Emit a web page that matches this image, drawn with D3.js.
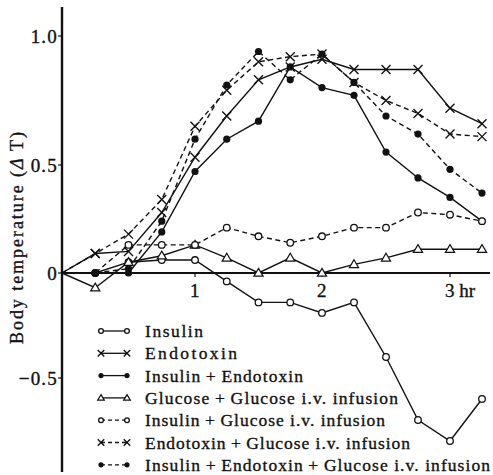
<!DOCTYPE html>
<html>
<head>
<meta charset="utf-8">
<script src="https://cdn.jsdelivr.net/npm/d3@7/dist/d3.min.js"></script>
<style>
  html, body { margin: 0; padding: 0; background: #fff; }
  svg { display: block; }
  text { font-family: "Liberation Serif", "DejaVu Serif", serif; fill: #111; stroke: #111; stroke-width: 0.35; }
</style>
</head>
<body>
<svg id="chart" width="493" height="475"></svg>
<script>
// Sampling times (hours after injection)
const hours = [0, 0.25, 0.5, 0.75, 1, 1.25, 1.5, 1.75, 2, 2.25, 2.5, 2.75, 3, 3.25];

// Mean rise of body temperature (ΔT, °C) for each treatment group
const insulin            = [0, 0, 0.05, 0.06, 0.06, -0.04, -0.14, -0.14, -0.19, -0.14, -0.40, -0.70, -0.80, -0.60];
const endotoxin          = [0, 0.09, 0.10, 0.28, 0.53, 0.69, 0.83, 0.88, 0.91, 0.87, 0.87, 0.87, 0.72, 0.66];
const insulinEndotoxin   = [0, 0, 0, 0.19, 0.47, 0.60, 0.67, 0.88, 0.80, 0.77, 0.55, 0.44, 0.35, 0.24];
const glucoseGlucose     = [0, -0.07, 0.05, 0.08, 0.13, 0.07, 0, 0.07, 0, 0.04, 0.07, 0.11, 0.11, 0.11];
const insulinGlucose     = [0, 0, 0.13, 0.13, 0.13, 0.21, 0.17, 0.14, 0.17, 0.21, 0.21, 0.28, 0.27, 0.24];
const endotoxinGlucose   = [0, 0.09, 0.18, 0.34, 0.65, 0.79, 0.90, 0.92, 0.93, 0.82, 0.75, 0.70, 0.62, 0.61];
const insEndoGlucose     = [0, 0, 0.02, 0.24, 0.60, 0.81, 0.94, 0.83, 0.93, 0.82, 0.69, 0.62, 0.48, 0.37];

const seriesNames = [
  "Insulin",
  "Endotoxin",
  "Insulin\u2009+\u2009Endotoxin",
  "Glucose\u2009+\u2009Glucose i.v. infusion",
  "Insulin\u2009+\u2009Glucose i.v. infusion",
  "Endotoxin\u2009+\u2009Glucose i.v. infusion",
  "Insulin\u2009+\u2009Endotoxin\u2009+\u2009Glucose i.v. infusion"
];
const seriesValues = [insulin, endotoxin, insulinEndotoxin, glucoseGlucose, insulinGlucose, endotoxinGlucose, insEndoGlucose];
const seriesMarkers = ["circle", "cross", "dot", "triangle", "circle", "cross", "dot"];
const seriesDashed = [false, false, false, false, true, true, true];

const yTicks = [1.0, 0.5, 0, -0.5];
const yTickLabels = ["1.0", "0.5", "0", "\u22120.5"];
const xTicks = [1, 2, 3];
const xTickLabels = ["1", "2", "3 hr"];

const svg = d3.select("#chart");

// Axis scales (polylinear, following the printed graduation)
const x = d3.scaleLinear().domain([0, 1, 2, 3.25]).range([62, 195, 322, 482]);
const y = d3.scaleLinear().domain([-0.5, 0, 0.5, 1.0]).range([378, 273, 165, 36]);

// Vertical axis
svg.append("line")
  .attr("x1", x(0)).attr("x2", x(0))
  .attr("y1", 7).attr("y2", 472)
  .attr("stroke", "#111").attr("stroke-width", 2.4);

// Horizontal zero line
svg.append("line")
  .attr("x1", x(0)).attr("x2", 490)
  .attr("y1", y(0)).attr("y2", y(0))
  .attr("stroke", "#111").attr("stroke-width", 1.8);

// Y ticks and labels
const yg = svg.append("g");
yTicks.forEach((t, i) => {
  yg.append("line")
    .attr("x1", x(0) - 4).attr("x2", x(0))
    .attr("y1", y(t)).attr("y2", y(t))
    .attr("stroke", "#111").attr("stroke-width", 1.2);
  yg.append("text")
    .attr("x", x(0) - 4).attr("y", y(t) + 6.5)
    .attr("text-anchor", "end")
    .attr("font-size", 19)
    .attr("letter-spacing", 1.2)
    .text(yTickLabels[i]);
});

// X ticks and labels
const xg = svg.append("g");
xTicks.forEach((t, i) => {
  xg.append("line")
    .attr("x1", x(t)).attr("x2", x(t))
    .attr("y1", y(0)).attr("y2", y(0) + 4)
    .attr("stroke", "#111").attr("stroke-width", 1.2);
  xg.append("text")
    .attr("x", x(t) - 5).attr("y", y(0) + 24)
    .attr("font-size", 19)
    .text(xTickLabels[i]);
});

// Y-axis title
svg.append("text")
  .attr("transform", `translate(23, 238) rotate(-90)`)
  .attr("text-anchor", "middle")
  .attr("font-size", 18)
  .attr("textLength", 212)
  .attr("lengthAdjust", "spacing")
  .call(t => {
    t.append("tspan").text("Body temperature (");
    t.append("tspan").attr("font-style", "italic").text("\u0394");
    t.append("tspan").text("\u2009T)");
  });

// Marker drawing helper
function drawMarker(g, kind, cx, cy, k = 1) {
  if (kind === "circle") {
    g.append("circle").attr("cx", cx).attr("cy", cy).attr("r", 3.3 * k)
      .attr("fill", "#fff").attr("stroke", "#111").attr("stroke-width", 1.3);
  } else if (kind === "dot") {
    g.append("circle").attr("cx", cx).attr("cy", cy).attr("r", 3.6 * k)
      .attr("fill", "#111");
  } else if (kind === "cross") {
    const s = 4.5 * k;
    g.append("path")
      .attr("d", `M${cx - s},${cy - s}L${cx + s},${cy + s}M${cx - s},${cy + s}L${cx + s},${cy - s}`)
      .attr("stroke", "#111").attr("stroke-width", 1.4).attr("fill", "none");
  } else if (kind === "triangle") {
    const s = 4.6 * k;
    g.append("path")
      .attr("d", `M${cx},${cy - s}L${cx + s},${cy + s * 0.7}L${cx - s},${cy + s * 0.7}Z`)
      .attr("fill", "#fff").attr("stroke", "#111").attr("stroke-width", 1.2);
  }
}

const line = d3.line().x(d => x(d[0])).y(d => y(d[1]));

// Series lines
const linesG = svg.append("g");
seriesValues.forEach((vals, i) => {
  const pts = hours.map((h, j) => [h, vals[j]]);
  linesG.append("path")
    .attr("d", line(pts))
    .attr("fill", "none")
    .attr("stroke", "#111")
    .attr("stroke-width", 1.4)
    .attr("stroke-dasharray", seriesDashed[i] ? "5,3.5" : null);
});

// Series markers (skip the common origin)
const markG = svg.append("g");
seriesValues.forEach((vals, i) => {
  hours.forEach((h, j) => {
    if (j === 0) return;
    drawMarker(markG, seriesMarkers[i], x(h), y(vals[j]));
  });
});

// Legend
const legend = svg.append("g");
const legendTop = 331, legendStep = 22.3;
const legendWidths = [58, 92, 158, 253, 240, 265, 345];
seriesNames.forEach((name, i) => {
  const ly = legendTop + i * legendStep;
  legend.append("line")
    .attr("x1", 101).attr("x2", 127)
    .attr("y1", ly).attr("y2", ly)
    .attr("stroke", "#111").attr("stroke-width", 1.3)
    .attr("stroke-dasharray", seriesDashed[i] ? "4,3" : null);
  drawMarker(legend, seriesMarkers[i], 101, ly, 0.72);
  drawMarker(legend, seriesMarkers[i], 127, ly, 0.72);
  legend.append("text")
    .attr("x", 145).attr("y", ly + 6)
    .attr("font-size", 17.5)
    .attr("textLength", legendWidths[i])
    .attr("lengthAdjust", "spacing")
    .text(name);
});
</script>
</body>
</html>
